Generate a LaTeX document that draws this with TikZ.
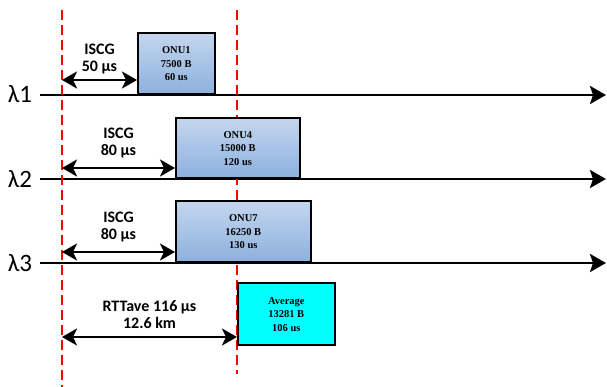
\documentclass[tikz,border=0pt]{standalone}
\usepackage{fontspec}
\setmainfont{Carlito}
\newfontfamily\boxfont{Liberation Serif}
\usepackage{tikz}
\usetikzlibrary{arrows.meta,calc,positioning}
\definecolor{onutop}{RGB}{196,214,238}
\definecolor{onubot}{RGB}{140,176,222}
\definecolor{avgcyan}{RGB}{0,255,255}
\tikzset{
  onubox/.style={draw=black, line width=1.6pt, top color=onutop, bottom color=onubot,
    anchor=south west, inner sep=0pt, align=center,
    font=\boxfont\bfseries\fontsize{10.5}{13.5}\selectfont},
  avgbox/.style={onubox, fill=avgcyan, top color=avgcyan, bottom color=avgcyan},
  axis/.style={line width=2.6pt, -{Stealth[length=16pt,width=18pt,inset=3pt]}},
  gap/.style={line width=2.6pt, {Stealth[length=15pt,width=17pt,inset=4pt]}-{Stealth[length=15pt,width=17pt,inset=4pt]}},
  marker/.style={red, line width=1.8pt, dash pattern=on 10pt off 5pt},
  lam/.style={font=\fontsize{25}{25}\selectfont},
  gaplabel/.style={align=center, font=\bfseries\fontsize{16}{17}\selectfont}
}
\begin{document}
\begin{tikzpicture}[x=1pt, y=-1pt]
\useasboundingbox (0,0) rectangle (607,387);

% ---- Wavelength axes ----
\node[lam] (l1) at (20,94) {λ1};
\node[lam] (l2) at (20,179) {λ2};
\node[lam] (l3) at (20,263) {λ3};
\coordinate (a1) at (40,95);  \coordinate (e1) at (606,95);
\coordinate (a2) at (40,179); \coordinate (e2) at (606,179);
\coordinate (a3) at (40,263); \coordinate (e3) at (606,263);
\draw[axis] (a1) -- (e1);
\draw[axis] (a2) -- (e2);
\draw[axis] (a3) -- (e3);

% ---- Reference instants (dashed) ----
\coordinate (d1t) at (62,10);  \coordinate (d1b) at (62,387);
\coordinate (d2t) at (237,10); \coordinate (d2b) at (237,374);
\draw[marker] (d1t) -- (d1b);
\draw[marker] (d2t) -- (d2b);

% ---- ONU bursts ----
\node[onubox, minimum width=77pt, minimum height=61pt] (onu1) at (137,95)
  {ONU1\\7500 B\\60 us};
\node[onubox, minimum width=124pt, minimum height=60pt] (onu4) at (175,179)
  {ONU4\\15000 B\\120 us};
\node[onubox, minimum width=135pt, minimum height=61pt] (onu7) at (175,263)
  {ONU7\\16250 B\\130 us};
\node[avgbox, minimum width=97pt, minimum height=62pt] (avg) at (237,346)
  {Average\\13281 B\\106 us};

% ---- Guard intervals ----
\coordinate (g1) at (62,80);
\coordinate (g2) at (62,168);
\coordinate (g3) at (62,252);
\coordinate (g4) at (62,337);
\draw[gap] (g1) -- (g1 -| onu1.west)
  node[midway, above=1pt, gaplabel] {ISCG\\50 µs};
\draw[gap] (g2) -- (g2 -| onu4.west)
  node[midway, above=5pt, gaplabel] {ISCG\\80 µs};
\draw[gap] (g3) -- (g3 -| onu7.west)
  node[midway, above=5pt, gaplabel] {ISCG\\80 µs};
\draw[gap] (g4) -- (g4 -| avg.west)
  node[midway, above=4pt, gaplabel] {RTTave 116 µs\\12.6 km};

\end{tikzpicture}
\end{document}
